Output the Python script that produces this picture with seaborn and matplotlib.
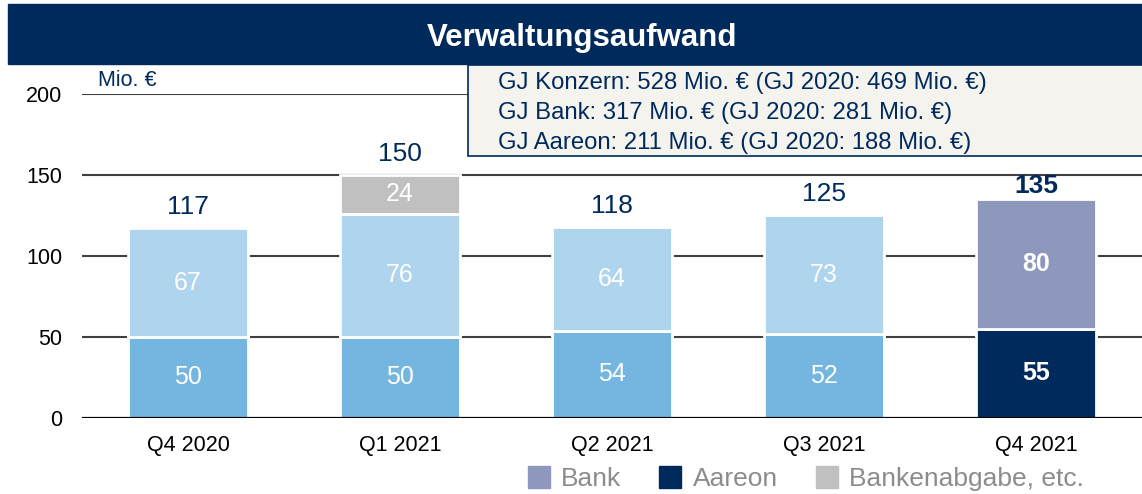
import matplotlib
matplotlib.use("Agg")
import matplotlib.pyplot as plt
from matplotlib.patches import Rectangle
from matplotlib.lines import Line2D
import seaborn as sns

quarters = ["Q4 2020", "Q1 2021", "Q2 2021", "Q3 2021", "Q4 2021"]
aareon = [50, 50, 54, 52, 55]
bank = [67, 76, 64, 73, 80]
bankenabgabe = [0, 24, 0, 0, 0]
totals = [117, 150, 118, 125, 135]
info_lines = [
    "GJ Konzern: 528 Mio. € (GJ 2020: 469 Mio. €)",
    "GJ Bank: 317 Mio. € (GJ 2020: 281 Mio. €)",
    "GJ Aareon: 211 Mio. € (GJ 2020: 188 Mio. €)",
]
legend_labels = ["Bank", "Aareon", "Bankenabgabe, etc."]

navy = "#002A5C"
mid_blue = "#74B6E0"
light_blue = "#AED4EE"
grey = "#C0C0C0"
lavender = "#8E98BC"

sns.set_style("white")
plt.rcParams["font.family"] = ["Liberation Sans", "DejaVu Sans"]

W, H = 1142, 494
fig = plt.figure(figsize=(W / 100, H / 100), dpi=100)
ax = fig.add_axes([82 / W, 1 - 418 / H, 1 - 82 / W, (418 - 94) / H])

# title bar
fig.patches.append(Rectangle((8 / W, 1 - 64 / H), 1, 60 / H,
                             transform=fig.transFigure, color=navy, zorder=0))
fig.text(0.51, 1 - 38 / H, "Verwaltungsaufwand", color="white", fontsize=22.5,
         fontweight="bold", ha="center", va="center")

bw = 120 / 212
bar_kw = dict(order=quarters, width=bw, edgecolor="white", linewidth=2,
              saturation=1, errorbar=None, ax=ax, zorder=3)

# stacked segments: Aareon at the bottom, Bank on top, Bankenabgabe above
sns.barplot(x=quarters, y=aareon, color=mid_blue, **bar_kw)
ax.containers[-1][-1].set_facecolor(navy)
sns.barplot(x=quarters, y=bank, color=light_blue, bottom=aareon, **bar_kw)
ax.containers[-1][-1].set_facecolor(lavender)
top2 = [a + b for a, b in zip(aareon, bank)]
ab_idx = [i for i, v in enumerate(bankenabgabe) if v > 0]
sns.barplot(x=[quarters[i] for i in ab_idx], y=[bankenabgabe[i] for i in ab_idx],
            bottom=[top2[i] for i in ab_idx], color=grey, **bar_kw)

# gridlines
for yv in [50, 100, 150, 200]:
    ax.axhline(yv, color="#404040", lw=1.5, zorder=1)
ax.axhline(0, color="black", lw=2.3, zorder=4)

for i in range(len(quarters)):
    last = i == len(quarters) - 1
    fw = "bold" if last else "normal"
    ax.text(i, aareon[i] / 2, str(aareon[i]), color="white", fontsize=18,
            fontweight=fw, ha="center", va="center", zorder=5)
    ax.text(i, aareon[i] + bank[i] / 2, str(bank[i]), color="white", fontsize=18,
            fontweight=fw, ha="center", va="center", zorder=5)
    if bankenabgabe[i] > 0:
        ax.text(i, top2[i] + bankenabgabe[i] / 2, str(bankenabgabe[i]), color="white",
                fontsize=18, ha="center", va="center", zorder=5)
    ax.annotate(str(totals[i]), (i, totals[i]), xytext=(0, 1 if last else 6.5),
                textcoords="offset points", ha="center", va="bottom", color=navy,
                fontsize=19, fontweight=fw)

ax.set_xlim(-0.5, 4.5)
ax.set_ylim(0, 200)
ax.set_yticks([0, 50, 100, 150, 200])
ax.tick_params(axis="both", length=0, labelsize=15.5, colors="black")
ax.tick_params(axis="x", pad=12)
ax.tick_params(axis="y", pad=14)
sns.despine(ax=ax, left=True, bottom=True)
ax.set_xlabel("")
ax.set_ylabel("")
ax.grid(False)

fig.text(98 / W, 1 - 80 / H, "Mio. €", color=navy, fontsize=15.5, va="center")

# info box
fig.patches.append(Rectangle((468 / W, 1 - 156 / H), 0.6, 91 / H,
                             transform=fig.transFigure, facecolor="#F4F3EE",
                             edgecolor=navy, lw=1.2, zorder=6))
for k, line in enumerate(info_lines):
    fig.text(498 / W, 1 - (83 + 30 * k) / H, line, color=navy, fontsize=17.2,
             va="center", zorder=7)

handles = [Line2D([], [], marker="s", ls="", markersize=16, color=c)
           for c in [lavender, navy, grey]]
leg = fig.legend(handles, legend_labels, ncol=3, frameon=False,
                 loc="center right", bbox_to_anchor=(1084 / W, 1 - 479 / H),
                 fontsize=19, handletextpad=0.4, columnspacing=1.4,
                 handlelength=0.9, borderaxespad=0, borderpad=0)
for t in leg.get_texts():
    t.set_color("#8C8C8C")

fig.savefig("out.png", dpi=100)
